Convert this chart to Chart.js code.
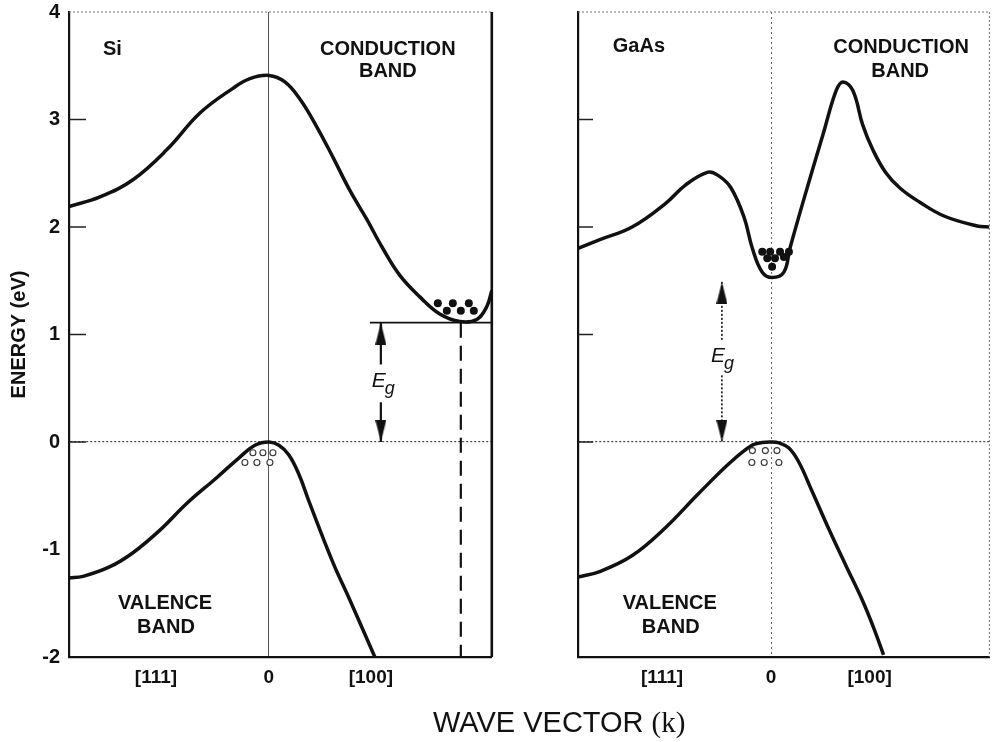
<!DOCTYPE html>
<html lang="en">
<head>
<meta charset="UTF-8">
<title>Energy band structure of Si and GaAs</title>
<script src="https://cdn.jsdelivr.net/npm/chart.js"></script>
<style>
  body { margin: 0; background: #fff; }
  .wrap { position: relative; width: 997px; height: 742px; background: #fff; overflow: hidden; }
  #siChart { position: absolute; left: 0; top: 0; }
  #gaasChart { position: absolute; left: 540px; top: 0; }
  .xtitle { position: absolute; left: 433px; top: 708px; font: 29px/29px 'Liberation Sans', Arial, sans-serif; color: #111; white-space: nowrap; }
  .xtitle span { font-family: 'Liberation Serif', 'Times New Roman', serif; }
</style>
</head>
<body>
<div class="wrap">
  <canvas id="siChart" width="500" height="742"></canvas>
  <canvas id="gaasChart" width="457" height="742"></canvas>
  <div class="xtitle">WAVE VECTOR <span>(k)</span></div>
</div>

<script>
// axis ticks
const energyTicks = [-2, -1, 0, 1, 2, 3, 4];
const innerTickE = [3, 2, 1, 0];
const kTickPos = [-0.565, 0, 0.51];
const kTickLabels = ['[111]', '0', '[100]'];

// Si bands (k, energy in eV)
const siCondK = [-1.0, -0.845, -0.68, -0.51, -0.345, -0.18, -0.095, 0, 0.08, 0.155, 0.24, 0.32, 0.405, 0.49, 0.57, 0.655, 0.755, 0.855, 0.955, 1.04, 1.09, 1.115];
const siCondE = [2.19, 2.28, 2.44, 2.72, 3.06, 3.29, 3.38, 3.41, 3.35, 3.19, 2.93, 2.65, 2.34, 2.07, 1.80, 1.55, 1.35, 1.19, 1.12, 1.14, 1.26, 1.41];
const siValK = [-1.0, -0.93, -0.795, -0.68, -0.545, -0.41, -0.26, -0.145, -0.07, 0, 0.05, 0.1, 0.15, 0.2, 0.32, 0.405, 0.53];
const siValE = [-1.265, -1.25, -1.16, -1.03, -0.82, -0.57, -0.33, -0.14, -0.03, 0, -0.03, -0.12, -0.30, -0.55, -1.12, -1.47, -2.0];
const siElecK = [0.845, 0.92, 1.0, 0.89, 0.96, 1.025];
const siElecE = [1.29, 1.29, 1.29, 1.22, 1.22, 1.22];
const siHoleK = [-0.08, -0.03, 0.02, -0.12, -0.06, 0.005];
const siHoleE = [-0.10, -0.10, -0.10, -0.19, -0.19, -0.19];
const siGapE = 1.11;
const siGapLineK = [0.505, 1.115];
const siMinK = 0.96;
const siArrowK = 0.56;
const siArrowUpE = [0.72, 1.11];
const siArrowDownE = [0.37, 0];

// GaAs bands
const gaasCondK = [-1.0, -0.89, -0.72, -0.546, -0.444, -0.327, -0.275, -0.21, -0.14, -0.097, -0.046, 0.005, 0.066, 0.097, 0.168, 0.27, 0.337, 0.372, 0.423, 0.474, 0.526, 0.592, 0.668, 0.77, 0.898, 1.066, 1.13];
const gaasCondE = [1.80, 1.88, 2.0, 2.22, 2.39, 2.51, 2.48, 2.37, 2.09, 1.80, 1.58, 1.53, 1.58, 1.80, 2.25, 2.87, 3.27, 3.35, 3.27, 2.95, 2.72, 2.51, 2.36, 2.23, 2.10, 2.01, 2.0];
const gaasValK = [-1.0, -0.888, -0.719, -0.546, -0.378, -0.209, -0.097, -0.046, 0, 0.041, 0.092, 0.143, 0.209, 0.301, 0.388, 0.474, 0.541, 0.582];
const gaasValE = [-1.256, -1.205, -1.056, -0.795, -0.484, -0.186, -0.028, -0.005, 0.0, -0.009, -0.056, -0.186, -0.446, -0.819, -1.153, -1.479, -1.777, -1.981];
const gaasElecK = [-0.046, -0.005, 0.046, 0.092, -0.02, 0.02, 0.066, 0.005];
const gaasElecE = [1.77, 1.77, 1.77, 1.77, 1.71, 1.71, 1.72, 1.63];
const gaasHoleK = [-0.097, -0.03, 0.03, -0.10, -0.036, 0.04];
const gaasHoleE = [-0.08, -0.08, -0.08, -0.19, -0.19, -0.19];
const gaasArrowK = -0.255;
const gaasArrowUpE = [0.95, 1.49];
const gaasArrowDownE = [0.62, 0];

const INK = '#111';
const FONT = "'Liberation Sans', Arial, sans-serif";

function pts(ks, es) {
  return ks.map((k, i) => ({ x: k, y: es[i] }));
}

function arrowHead(up) {
  const w = 11, h = 22;
  const c = document.createElement('canvas');
  c.width = w; c.height = h * 2;
  const g = c.getContext('2d');
  g.fillStyle = INK;
  g.beginPath();
  if (up) { g.moveTo(w / 2, h); g.lineTo(0, 2 * h); g.lineTo(w, 2 * h); }
  else { g.moveTo(w / 2, h); g.lineTo(0, 0); g.lineTo(w, 0); }
  g.closePath();
  g.fill();
  return c;
}
const headUp = arrowHead(true);
const headDown = arrowHead(false);

function band(ks, es) {
  return { data: pts(ks, es), showLine: true, borderColor: INK, borderWidth: 3.5,
           pointRadius: 0, tension: 0.4, order: 2 };
}
function dots(ks, es, filled) {
  return { data: pts(ks, es), showLine: false, order: 0,
           pointRadius: filled ? 4 : 3, pointBorderWidth: filled ? 0 : 1.1,
           pointBackgroundColor: filled ? INK : '#fff', pointBorderColor: '#333' };
}
function arrow(k, es, head, dash, width) {
  return { data: [{ x: k, y: es[0] }, { x: k, y: es[1] }], showLine: true, order: 1,
           borderColor: INK, borderWidth: width, borderDash: dash,
           pointRadius: [0, 6], pointStyle: head };
}
function segment(ks, es, dash, width) {
  return { data: pts(ks, es), showLine: true, order: 1, borderColor: INK,
           borderWidth: width, borderDash: dash, pointRadius: 0 };
}

// short ticks drawn inside the left frame, plus top/right frame lines
const framePlugin = {
  id: 'frame',
  afterDatasetsDraw(chart, args, opts) {
    const { ctx, chartArea: a, scales: { y } } = chart;
    ctx.save();
    ctx.strokeStyle = '#222';
    ctx.lineWidth = 1.5;
    innerTickE.forEach(v => {
      const py = y.getPixelForValue(v);
      ctx.beginPath(); ctx.moveTo(a.left, py); ctx.lineTo(a.left + opts.tickLen, py); ctx.stroke();
    });
    ctx.strokeStyle = '#777';
    ctx.lineWidth = 1;
    ctx.setLineDash([2, 2]);
    ctx.beginPath(); ctx.moveTo(a.left, a.top); ctx.lineTo(a.right, a.top); ctx.stroke();
    if (opts.solidRight) {
      ctx.setLineDash([]);
      ctx.strokeStyle = INK;
      ctx.lineWidth = 2.6;
    }
    ctx.beginPath(); ctx.moveTo(a.right, a.top); ctx.lineTo(a.right, a.bottom); ctx.stroke();
    ctx.restore();
  }
};

// text labels placed in data units
const notesPlugin = {
  id: 'notes',
  afterDatasetsDraw(chart, args, opts) {
    const { ctx, scales: { x, y } } = chart;
    ctx.save();
    ctx.fillStyle = INK;
    opts.items.forEach(it => {
      const px = x.getPixelForValue(it.k), py = y.getPixelForValue(it.e);
      if (it.eg) {
        ctx.textAlign = 'left';
        ctx.textBaseline = 'alphabetic';
        ctx.font = 'italic 21px ' + FONT;
        ctx.fillText('E', px - it.dx, py);
        const w = ctx.measureText('E').width;
        ctx.font = 'italic 18px ' + FONT;
        ctx.fillText('g', px - it.dx + w - 1, py + 7);
        return;
      }
      ctx.font = 'bold 20px ' + FONT;
      ctx.textAlign = it.align || 'center';
      ctx.textBaseline = 'middle';
      ctx.fillText(it.text, px, py);
    });
    ctx.restore();
  }
};

function bandChart(id, cfg) {
  return new Chart(document.getElementById(id), {
    type: 'scatter',
    data: { datasets: cfg.datasets },
    options: {
      responsive: false,
      animation: false,
      devicePixelRatio: 1,
      layout: { padding: { top: 12, right: cfg.padRight, left: 0, bottom: 0 } },
      plugins: {
        legend: { display: false },
        tooltip: { enabled: false },
        frame: { tickLen: cfg.tickLen, solidRight: cfg.solidRight },
        notes: { items: cfg.notes }
      },
      scales: {
        x: {
          type: 'linear', min: -1, max: cfg.kMax,
          afterBuildTicks: s => { s.ticks = kTickPos.map(v => ({ value: v })); },
          afterFit: s => { s.height = 85; },
          ticks: { callback: (v, i) => kTickLabels[i], autoSkip: false, maxRotation: 0,
                   color: INK, padding: 9, font: { family: FONT, size: 19, weight: 'bold' } },
          grid: { drawTicks: false, lineWidth: 1,
                  color: c => (c.tick && c.tick.value === 0) ? cfg.kZeroColor : 'rgba(0,0,0,0)' },
          border: { color: INK, width: 2.2, dash: cfg.kZeroDash }
        },
        y: {
          min: -2, max: 4,
          afterBuildTicks: s => { s.ticks = energyTicks.map(v => ({ value: v })); },
          afterFit: s => { s.width = cfg.yWidth; s.paddingTop = 0; s.paddingBottom = 0; },
          ticks: { display: cfg.yLabels, color: INK, padding: 9,
                   font: { family: FONT, size: 20, weight: 'bold' } },
          grid: { drawTicks: false, lineWidth: 1.2,
                  color: c => (c.tick && c.tick.value === 0) ? '#444' : 'rgba(0,0,0,0)' },
          border: { color: INK, width: 2.2, dash: [2, 2] },
          title: { display: cfg.yLabels, text: 'ENERGY (eV)', color: INK, padding: { top: 7, bottom: 0 },
                   font: { family: FONT, size: 20, weight: 'bold' } }
        }
      }
    },
    plugins: [framePlugin, notesPlugin]
  });
}

bandChart('siChart', {
  kMax: 1.115, yWidth: 69, padRight: 8, tickLen: 17, solidRight: true, yLabels: true,
  kZeroColor: '#555', kZeroDash: [],
  datasets: [
    dots(siElecK, siElecE, true),
    dots(siHoleK, siHoleE, false),
    band(siCondK, siCondE),
    band(siValK, siValE),
    segment(siGapLineK, [siGapE, siGapE], [], 1.8),
    segment([siMinK, siMinK], [siGapE, -2], [15, 8], 2.2),
    arrow(siArrowK, siArrowUpE, headUp, [], 2.2),
    arrow(siArrowK, siArrowDownE, headDown, [], 2.2)
  ],
  notes: [
    { text: 'Si', k: -0.83, e: 3.65, align: 'left' },
    { text: 'CONDUCTION', k: 0.595, e: 3.65 },
    { text: 'BAND', k: 0.595, e: 3.45 },
    { text: 'VALENCE', k: -0.52, e: -1.50 },
    { text: 'BAND', k: -0.515, e: -1.73 },
    { eg: true, k: siArrowK, e: 0.51, dx: 9 }
  ]
});

bandChart('gaasChart', {
  kMax: 1.13, yWidth: 38, padRight: 1, tickLen: 15, solidRight: false, yLabels: false,
  kZeroColor: '#666', kZeroDash: [2, 3],
  datasets: [
    dots(gaasElecK, gaasElecE, true),
    dots(gaasHoleK, gaasHoleE, false),
    band(gaasCondK, gaasCondE),
    band(gaasValK, gaasValE),
    arrow(gaasArrowK, gaasArrowUpE, headUp, [2, 2], 1.6),
    arrow(gaasArrowK, gaasArrowDownE, headDown, [2, 2], 1.6)
  ],
  notes: [
    { text: 'GaAs', k: -0.82, e: 3.68, align: 'left' },
    { text: 'CONDUCTION', k: 0.673, e: 3.67 },
    { text: 'BAND', k: 0.668, e: 3.45 },
    { text: 'VALENCE', k: -0.525, e: -1.50 },
    { text: 'BAND', k: -0.52, e: -1.73 },
    { eg: true, k: gaasArrowK, e: 0.74, dx: 11 }
  ]
});
</script>
</body>
</html>
